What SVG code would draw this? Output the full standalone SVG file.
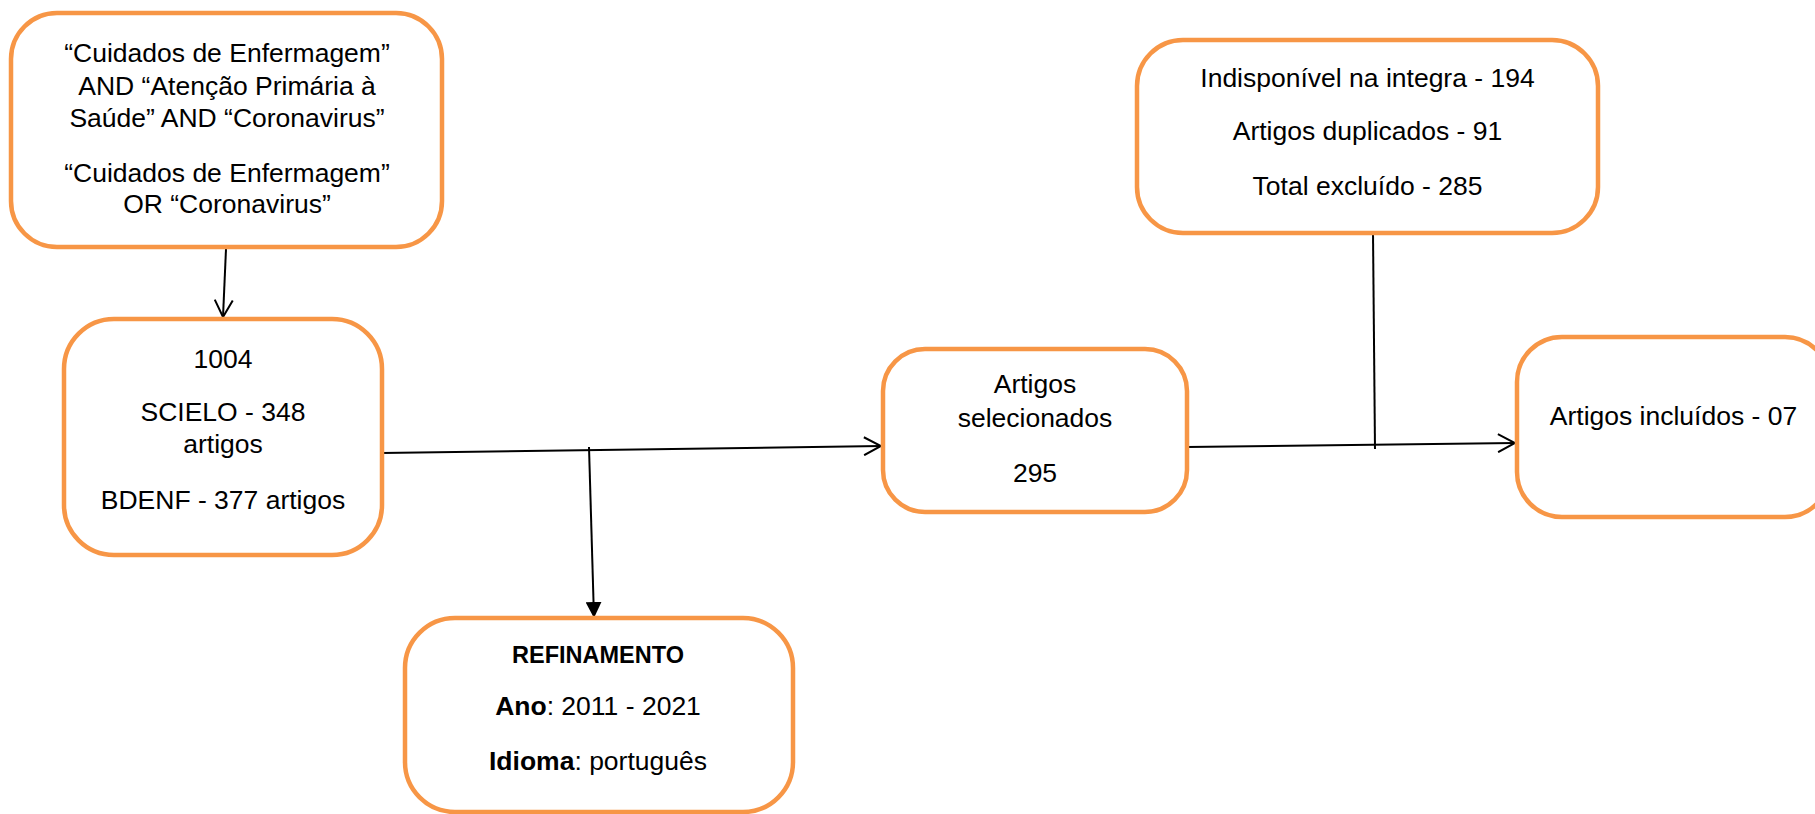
<svg xmlns="http://www.w3.org/2000/svg" width="1815" height="814" viewBox="0 0 1815 814">
<style>
.box{fill:#fff;stroke:#F79646;stroke-width:4.5}
.t{font-family:"Liberation Sans",Arial,sans-serif;font-size:26.5px;fill:#000;text-anchor:middle}
.b{font-weight:bold}
.ln{stroke:#000;stroke-width:2;fill:none}
</style>
<defs>
<marker id="open" viewBox="0 0 20 20" refX="18" refY="10" markerWidth="20" markerHeight="20" markerUnits="userSpaceOnUse" orient="auto">
<path d="M1,1 L18,10 L1,19" fill="none" stroke="#000" stroke-width="2"/>
</marker>
<marker id="solid" viewBox="0 0 16 16" refX="16" refY="8" markerWidth="16" markerHeight="16" markerUnits="userSpaceOnUse" orient="auto">
<path d="M0,0 L16,8 L0,16 Z" fill="#000"/>
</marker>
</defs>
<g id="connectors">
<line class="ln" x1="226" y1="249" x2="223" y2="317" marker-end="url(#open)"/>
<line class="ln" x1="382" y1="453" x2="881" y2="446" marker-end="url(#open)"/>
<line class="ln" x1="589" y1="447" x2="594" y2="618" marker-end="url(#solid)"/>
<line class="ln" x1="1373" y1="233" x2="1375" y2="449"/>
<line class="ln" x1="1187" y1="447" x2="1515" y2="443" marker-end="url(#open)"/>
</g>
<g id="n-busca">
<rect class="box" x="11" y="13" width="431" height="234" rx="46"/>
<text class="t" x="227" y="62">“Cuidados de Enfermagem”</text>
<text class="t" x="227" y="95">AND “Atenção Primária à</text>
<text class="t" x="227" y="127">Saúde” AND “Coronavirus”</text>
<text class="t" x="227" y="182">“Cuidados de Enfermagem”</text>
<text class="t" x="227" y="213">OR “Coronavirus”</text>
</g>
<g id="n-total">
<rect class="box" x="64" y="319" width="318" height="236" rx="50"/>
<text class="t" x="223" y="368">1004</text>
<text class="t" x="223" y="421">SCIELO - 348</text>
<text class="t" x="223" y="453">artigos</text>
<text class="t" x="223" y="509">BDENF - 377 artigos</text>
</g>
<g id="n-refinamento">
<rect class="box" x="405" y="618" width="388" height="194" rx="50"/>
<text class="t b" x="598" y="663" style="font-size:23.5px">REFINAMENTO</text>
<text class="t" x="598" y="715"><tspan class="b">Ano</tspan>: 2011 - 2021</text>
<text class="t" x="598" y="770"><tspan class="b">Idioma</tspan>: português</text>
</g>
<g id="n-selecionados">
<rect class="box" x="883" y="349" width="304" height="163" rx="42"/>
<text class="t" x="1035" y="393">Artigos</text>
<text class="t" x="1035" y="427">selecionados</text>
<text class="t" x="1035" y="482">295</text>
</g>
<g id="n-excluidos">
<rect class="box" x="1137" y="40" width="461" height="193" rx="46"/>
<text class="t" x="1367.5" y="87">Indisponível na integra - 194</text>
<text class="t" x="1367.5" y="140">Artigos duplicados - 91</text>
<text class="t" x="1367.5" y="195">Total excluído - 285</text>
</g>
<g id="n-incluidos">
<rect class="box" x="1517" y="337" width="313" height="180" rx="45"/>
<text class="t" x="1673.5" y="425">Artigos incluídos - 07</text>
</g>
</svg>
